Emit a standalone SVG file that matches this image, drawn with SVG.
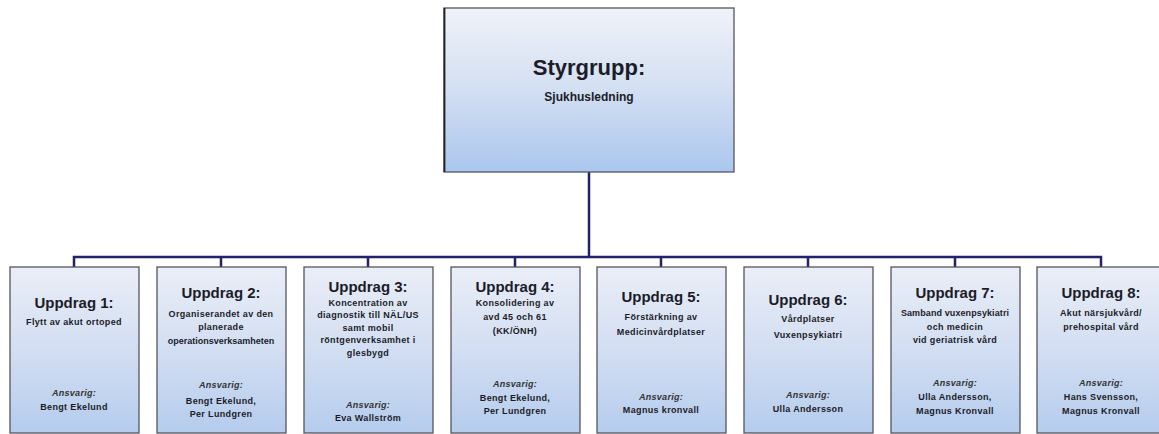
<svg xmlns="http://www.w3.org/2000/svg" width="1159" height="434" viewBox="0 0 1159 434">
<defs>
<linearGradient id="g" x1="0" y1="0" x2="0" y2="1">
<stop offset="0" stop-color="#f0f2f9"/>
<stop offset="0.5" stop-color="#d3dff2"/>
<stop offset="1" stop-color="#abc6ee"/>
</linearGradient>
<linearGradient id="gs" x1="0" y1="0" x2="0" y2="1">
<stop offset="0" stop-color="#eaeef7"/>
<stop offset="0.5" stop-color="#d2def2"/>
<stop offset="1" stop-color="#b5cced"/>
</linearGradient>
<style>
.box{fill:url(#gs);stroke:#55555f;stroke-width:1.3}
.top{fill:url(#g);stroke:#55555f;stroke-width:1.3}
.edge{fill:none;stroke:#22226a;stroke-width:2.5}
text{font-family:"Liberation Sans",Arial,sans-serif;font-weight:bold;fill:#1c1c28;text-anchor:middle}
.h{font-size:15px}
.s{font-size:9px;letter-spacing:0.35px}
.i{font-size:9px;letter-spacing:0.3px;font-style:italic;fill:#333}
</style>
</defs>
<g id="connectors">
<path class="edge" d="M589 172V257"/>
<path class="edge" d="M74 267V257H1101V267"/>
<path class="edge" d="M221 257V267M368 257V267M515 257V267M661 257V267M808 257V267M955 257V267"/>
</g>
<g id="styrgrupp">
<rect class="top" x="444" y="8" width="290" height="164"/>
<path d="M444.5 8V172" stroke="#222" stroke-width="1.8"/>
<text x="589" y="75" style="font-size:22px">Styrgrupp:</text>
<text x="589" y="101" style="font-size:12px">Sjukhusledning</text>
</g>
<g id="uppdrag1">
<rect class="box" x="10" y="267" width="129" height="166"/>
<text class="h" x="74" y="308">Uppdrag 1:</text>
<text class="s" x="74" y="325">Flytt av akut ortoped</text>
<text class="i" x="74" y="396">Ansvarig:</text>
<text class="s" x="74" y="410">Bengt Ekelund</text>
</g>
<g id="uppdrag2">
<rect class="box" x="157" y="267" width="129" height="166"/>
<text class="h" x="221" y="298">Uppdrag 2:</text>
<text class="s" x="221" y="317">Organiserandet av den</text>
<text class="s" x="221" y="330">planerade</text>
<text class="s" x="221" y="344" style="letter-spacing:0">operationsverksamheten</text>
<text class="i" x="221" y="388">Ansvarig:</text>
<text class="s" x="221" y="404">Bengt Ekelund,</text>
<text class="s" x="221" y="417">Per Lundgren</text>
</g>
<g id="uppdrag3">
<rect class="box" x="304" y="267" width="129" height="166"/>
<text class="h" x="368" y="292">Uppdrag 3:</text>
<text class="s" x="368" y="306">Koncentration av</text>
<text class="s" x="368" y="318">diagnostik till NÄL/US</text>
<text class="s" x="368" y="331">samt mobil</text>
<text class="s" x="368" y="343">röntgenverksamhet i</text>
<text class="s" x="368" y="356">glesbygd</text>
<text class="i" x="368" y="408">Ansvarig:</text>
<text class="s" x="368" y="421">Eva Wallström</text>
</g>
<g id="uppdrag4">
<rect class="box" x="451" y="267" width="129" height="166"/>
<text class="h" x="515" y="292">Uppdrag 4:</text>
<text class="s" x="515" y="306">Konsolidering av</text>
<text class="s" x="515" y="320">avd 45 och 61</text>
<text class="s" x="515" y="334">(KK/ÖNH)</text>
<text class="i" x="515" y="387">Ansvarig:</text>
<text class="s" x="515" y="401">Bengt Ekelund,</text>
<text class="s" x="515" y="414">Per Lundgren</text>
</g>
<g id="uppdrag5">
<rect class="box" x="597" y="267" width="129" height="166"/>
<text class="h" x="661" y="302">Uppdrag 5:</text>
<text class="s" x="661" y="320">Förstärkning av</text>
<text class="s" x="661" y="335">Medicinvårdplatser</text>
<text class="i" x="661" y="400">Ansvarig:</text>
<text class="s" x="661" y="413">Magnus kronvall</text>
</g>
<g id="uppdrag6">
<rect class="box" x="744" y="267" width="129" height="166"/>
<text class="h" x="808" y="305">Uppdrag 6:</text>
<text class="s" x="808" y="322">Vårdplatser</text>
<text class="s" x="808" y="338">Vuxenpsykiatri</text>
<text class="i" x="808" y="398">Ansvarig:</text>
<text class="s" x="808" y="412">Ulla Andersson</text>
</g>
<g id="uppdrag7">
<rect class="box" x="891" y="267" width="129" height="166"/>
<text class="h" x="955" y="298">Uppdrag 7:</text>
<text class="s" x="955" y="316" style="letter-spacing:0.1px">Samband vuxenpsykiatri</text>
<text class="s" x="955" y="330">och medicin</text>
<text class="s" x="955" y="343">vid geriatrisk vård</text>
<text class="i" x="955" y="386">Ansvarig:</text>
<text class="s" x="955" y="400">Ulla Andersson,</text>
<text class="s" x="955" y="414">Magnus Kronvall</text>
</g>
<g id="uppdrag8">
<rect class="box" x="1037" y="267" width="129" height="166"/>
<text class="h" x="1101" y="298">Uppdrag 8:</text>
<text class="s" x="1101" y="316">Akut närsjukvård/</text>
<text class="s" x="1101" y="330">prehospital vård</text>
<text class="i" x="1101" y="386">Ansvarig:</text>
<text class="s" x="1101" y="400">Hans Svensson,</text>
<text class="s" x="1101" y="414">Magnus Kronvall</text>
</g>
</svg>
